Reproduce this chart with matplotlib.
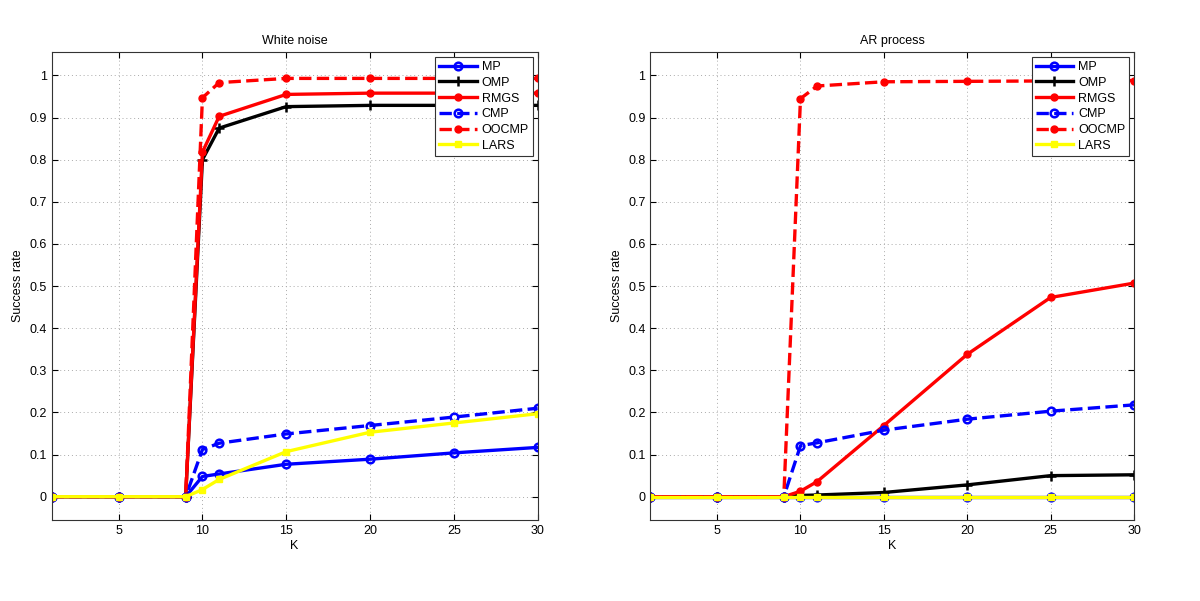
import numpy as np
import matplotlib
matplotlib.use('Agg')
import matplotlib.pyplot as plt

plt.rcParams['font.family'] = ['Liberation Sans', 'DejaVu Sans']

# sparsity levels K
k = [1, 5, 9, 10, 11, 15, 20, 25, 30]

# White noise
wn_mp = [0, 0, 0, 0.048, 0.054, 0.077, 0.089, 0.104, 0.117]
wn_omp = [0, 0, 0, 0.800, 0.875, 0.926, 0.929, 0.929, 0.929]
wn_rmgs = [0, 0, 0, 0.818, 0.903, 0.955, 0.958, 0.958, 0.958]
wn_cmp = [0, 0, 0, 0.112, 0.127, 0.149, 0.169, 0.189, 0.210]
wn_oocmp = [0, 0, 0, 0.947, 0.983, 0.993, 0.993, 0.993, 0.993]
wn_lars = [0, 0, 0, 0.017, 0.041, 0.107, 0.153, 0.175, 0.197]

# AR process
ar_mp = [0, 0, 0, 0, 0, 0, 0, 0, 0]
ar_omp = [0, 0, 0, 0.003, 0.004, 0.010, 0.028, 0.050, 0.052]
ar_rmgs = [0, 0, 0, 0.013, 0.036, 0.169, 0.338, 0.473, 0.507]
ar_cmp = [0, 0, 0, 0.121, 0.128, 0.158, 0.184, 0.203, 0.218]
ar_oocmp = [0, 0, 0, 0.945, 0.975, 0.985, 0.986, 0.987, 0.988]
ar_lars = [0, 0, 0, 0, 0, 0, 0, 0, 0]

names = ['MP', 'OMP', 'RMGS', 'CMP', 'OOCMP', 'LARS']
styles = [
    dict(color='#0000ff', ls='-', marker='o', mfc='none', ms=5.5, mew=1.8),
    dict(color='black', ls='-', marker='+', ms=7, mew=1.8),
    dict(color='#ff0000', ls='-', marker='.', ms=10),
    dict(color='#0000ff', ls='--', marker='o', mfc='none', ms=5.5, mew=1.8),
    dict(color='#ff0000', ls='--', marker='.', ms=10),
    dict(color='#ffff00', ls='-', marker='s', ms=4.5),
]

fig = plt.figure(figsize=(12, 6.01), dpi=100)
ax1 = fig.add_axes([0.043, 0.135, 0.405, 0.778])
ax2 = fig.add_axes([0.542, 0.135, 0.403, 0.778])

panels = [
    (ax1, 'White noise', [wn_mp, wn_omp, wn_rmgs, wn_cmp, wn_oocmp, wn_lars]),
    (ax2, 'AR process', [ar_mp, ar_omp, ar_rmgs, ar_cmp, ar_oocmp, ar_lars]),
]

for ax, title, series in panels:
    for name, vals, st in zip(names, series, styles):
        ax.plot(k, vals, lw=2.4, label=name, **st)
    ax.set_xlim(1, 30)
    ax.set_ylim(-0.055, 1.055)
    ax.set_xticks([5, 10, 15, 20, 25, 30])
    ax.set_yticks(np.arange(0, 1.01, 0.1))
    ax.set_yticklabels(['0', '0.1', '0.2', '0.3', '0.4', '0.5', '0.6', '0.7', '0.8', '0.9', '1'])
    ax.grid(True, ls=(0, (1, 3)), color='#aaaaaa', lw=0.7)
    ax.tick_params(direction='in', labelsize=9, top=True, right=True, length=4)
    for sp in ax.spines.values():
        sp.set_color('#333333')
    ax.set_title(title, fontsize=9)
    ax.set_xlabel('K', fontsize=9, labelpad=2)
    ax.set_ylabel('Success rate', fontsize=9)
    leg = ax.legend(loc='upper right', fontsize=9, handlelength=3.0, borderaxespad=0.4,
                    fancybox=False, framealpha=1, edgecolor='#333333', labelspacing=0.3,
                    borderpad=0.3, handletextpad=0.4)
    leg.get_frame().set_linewidth(0.8)

plt.savefig('out.png', dpi=100)
